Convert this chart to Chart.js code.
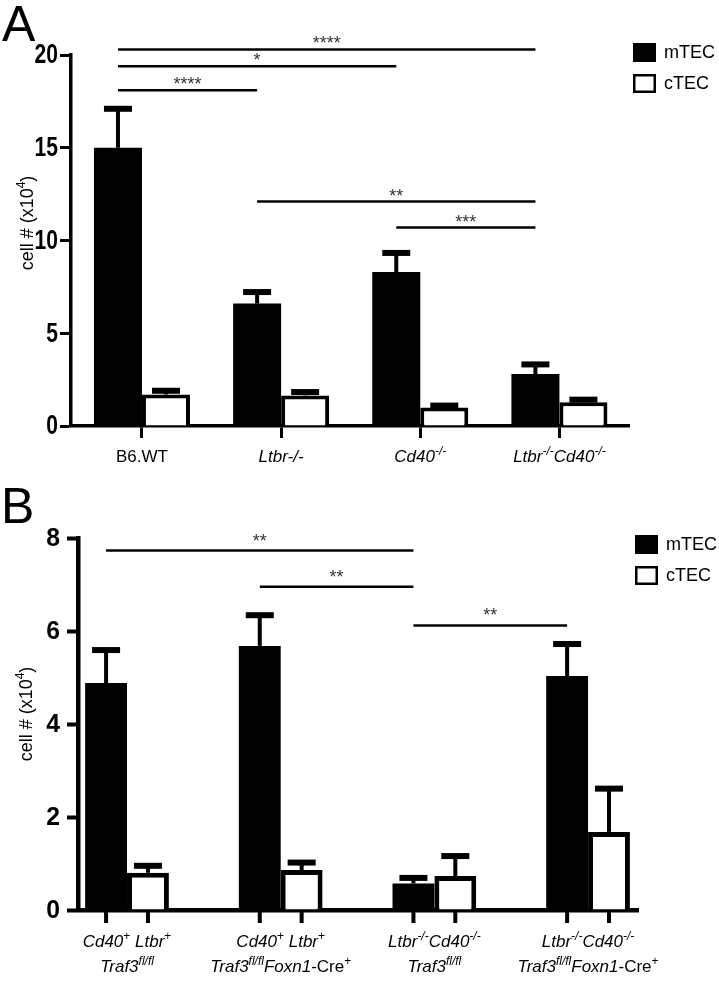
<!DOCTYPE html>
<html>
<head>
<meta charset="utf-8">
<script src="https://cdn.jsdelivr.net/npm/chart.js@4.4.1/dist/chart.umd.min.js"></script>
<style>
  html, body { margin: 0; padding: 0; background: #fff; }
  #wrapA { position: absolute; left: 0; top: 0; width: 719px; height: 470px; }
  #wrapB { position: absolute; left: 0; top: 470px; width: 719px; height: 514px; }
</style>
</head>
<body>
<div id="wrapA"><canvas id="chartA" width="719" height="470"></canvas></div>
<div id="wrapB"><canvas id="chartB" width="719" height="514"></canvas></div>
<script>
// series names (legend)
const seriesNames = ["mTEC", "cTEC"];

// Panel A
const categoriesA = [
  ["B6.WT"],
  ["<i>Ltbr-/-</i>"],
  ["<i>Cd40<sup>-/-</sup></i>"],
  ["<i>Ltbr<sup>-/-</sup>Cd40<sup>-/-</sup></i>"]
];
const mtecA = [15.0, 6.6, 8.3, 2.8];
const mtecErrA = [2.1, 0.62, 1.03, 0.52];
const ctecA = [1.7, 1.65, 1.0, 1.28];
const ctecErrA = [0.2, 0.18, 0.1, 0.14];
const yTicksA = [0, 5, 10, 15, 20];
// [from group, to group, height, stars]
const bracketsA = [
  [0, 3, 20.3, "****"],
  [0, 2, 19.4, "*"],
  [0, 1, 18.1, "****"],
  [1, 3, 12.1, "**"],
  [2, 3, 10.7, "***"]
];

// Panel B
const categoriesB = [
  ["<i>Cd40</i><sup>+</sup> <i>Ltbr</i><sup>+</sup>", "<i>Traf3<sup>fl/fl</sup></i>"],
  ["<i>Cd40</i><sup>+</sup> <i>Ltbr</i><sup>+</sup>", "<i>Traf3<sup>fl/fl</sup>Foxn1</i>-Cre<sup>+</sup>"],
  ["<i>Ltbr<sup>-/-</sup>Cd40<sup>-/-</sup></i>", "<i>Traf3<sup>fl/fl</sup></i>"],
  ["<i>Ltbr<sup>-/-</sup>Cd40<sup>-/-</sup></i>", "<i>Traf3<sup>fl/fl</sup>Foxn1</i>-Cre<sup>+</sup>"]
];
const mtecB = [4.88, 5.68, 0.57, 5.03];
const mtecErrB = [0.71, 0.66, 0.12, 0.69];
const ctecB = [0.8, 0.86, 0.73, 1.68];
const ctecErrB = [0.15, 0.16, 0.43, 0.93];
const yTicksB = [0, 2, 4, 6, 8];
const bracketsB = [
  [0, 2, 7.73, "**"],
  [1, 2, 6.95, "**"],
  [2, 3, 6.12, "**"]
];

const FONT = "'Liberation Sans', Arial, Helvetica, sans-serif";

// simple <i>/<sup> markup -> segments
function parseRich(str){
  const parts = str.split(/(<\/?(?:i|sup)>)/);
  let it = 0, sup = 0;
  const segs = [];
  for (const p of parts) {
    if (!p) continue;
    if (p === "<i>") it++;
    else if (p === "</i>") it--;
    else if (p === "<sup>") sup++;
    else if (p === "</sup>") sup--;
    else segs.push({ text: p, italic: it > 0, sup: sup > 0 });
  }
  return segs;
}

function drawRich(ctx, str, cx, y, size){
  const segs = parseRich(str);
  const fontOf = s => (s.italic ? "italic " : "") + (s.sup ? Math.round(size * 0.7) : size) + "px " + FONT;
  let w = 0;
  segs.forEach(s => { ctx.font = fontOf(s); s.w = ctx.measureText(s.text).width; w += s.w; });
  let x = cx - w / 2;
  ctx.textAlign = "left";
  ctx.textBaseline = "alphabetic";
  segs.forEach(s => {
    ctx.font = fontOf(s);
    ctx.fillText(s.text, x, s.sup ? y - size * 0.42 : y);
    x += s.w;
  });
}

// error bars (upper only) from dataset.errors
const errorBars = {
  id: "errorBars",
  afterDatasetsDraw(chart, args, o){
    const ctx = chart.ctx, ys = chart.scales.y;
    ctx.save();
    ctx.fillStyle = "#000";
    chart.data.datasets.forEach((ds, di) => {
      chart.getDatasetMeta(di).data.forEach((bar, i) => {
        const top = ys.getPixelForValue(ds.data[i].y + ds.errors[i]);
        ctx.fillRect(bar.x - o.stem / 2, top, o.stem, bar.y - top);
        ctx.fillRect(bar.x - o.cap / 2, top - o.capH / 2, o.cap, o.capH);
      });
    });
    ctx.restore();
  }
};

// labels, brackets, legend, title, panel letter
const decor = {
  id: "decor",
  afterDraw(chart, args, o){
    const ctx = chart.ctx, xs = chart.scales.x, ys = chart.scales.y;
    const area = chart.chartArea;
    const m0 = chart.getDatasetMeta(0).data;
    ctx.save();
    ctx.fillStyle = "#000";

    // panel letter
    ctx.font = "50px " + FONT;
    ctx.textAlign = "left";
    ctx.textBaseline = "alphabetic";
    ctx.fillText(o.letter, o.letterX, o.letterY);

    // y tick labels, horizontally condensed
    ctx.font = "bold " + o.tickSize + "px " + FONT;
    ctx.textAlign = "right";
    ctx.textBaseline = "middle";
    ys.ticks.forEach(t => {
      ctx.save();
      ctx.translate(area.left - o.tickGap, ys.getPixelForValue(t.value) + 1);
      ctx.scale(o.tickSquash, 1);
      ctx.fillText(String(t.value), 0, 0);
      ctx.restore();
    });

    // y title, rotated
    ctx.save();
    ctx.translate(o.titleX, o.titleY);
    ctx.rotate(-Math.PI / 2);
    ctx.textAlign = "left";
    ctx.textBaseline = "middle";
    const tParts = [["cell # (x10", 18, 0], ["4", 12, -6], [")", 18, 0]];
    let tw = 0;
    tParts.forEach(p => { ctx.font = p[1] + "px " + FONT; tw += ctx.measureText(p[0]).width; });
    let tx = -tw / 2;
    tParts.forEach(p => {
      ctx.font = p[1] + "px " + FONT;
      ctx.fillText(p[0], tx, p[2]);
      tx += ctx.measureText(p[0]).width;
    });
    ctx.restore();

    // category labels
    o.labels.forEach((lines, i) => {
      const cx = xs.getPixelForValue(i);
      lines.forEach((ln, k) => drawRich(ctx, ln, cx, area.bottom + o.labelY[k], 17));
    });

    // tick marks under each bar (panel B)
    if (o.barTicks) {
      chart.data.datasets.forEach((ds, di) => {
        chart.getDatasetMeta(di).data.forEach(bar => {
          ctx.fillRect(bar.x - 2, area.bottom, 4, o.barTicks);
        });
      });
    }

    // significance brackets between mTEC bars
    ctx.strokeStyle = "#000";
    ctx.lineWidth = 2.5;
    o.brackets.forEach(b => {
      const x1 = m0[b[0]].x, x2 = m0[b[1]].x, y = ys.getPixelForValue(b[2]);
      ctx.beginPath();
      ctx.moveTo(x1, y);
      ctx.lineTo(x2, y);
      ctx.stroke();
      ctx.font = "18px " + FONT;
      ctx.fillStyle = "#333";
      ctx.textAlign = "center";
      ctx.textBaseline = "alphabetic";
      ctx.fillText(b[3], (x1 + x2) / 2, y - o.starOffset);
      ctx.fillStyle = "#000";
    });

    // legend
    chart.data.datasets.forEach((ds, di) => {
      const by = o.legendY + di * o.legendGap;
      if (di === 0) {
        ctx.fillStyle = "#000";
        ctx.fillRect(o.legendX, by, 23, 19);
      } else {
        ctx.lineWidth = 2.5;
        ctx.strokeRect(o.legendX + 1.25, by + 1.25, 20.5, 16.5);
      }
      ctx.fillStyle = "#000";
      ctx.font = "18px " + FONT;
      ctx.textAlign = "left";
      ctx.textBaseline = "middle";
      ctx.fillText(ds.label, o.legendX + 31, by + 10);
    });
    ctx.restore();
  }
};

function makeChart(id, d){
  return new Chart(document.getElementById(id), {
    type: "bar",
    data: {
      datasets: [
        { label: seriesNames[0], data: d.mtec.map((v, i) => ({ x: i, y: v })), errors: d.mtecErr,
          backgroundColor: "#000", borderColor: "#000", borderWidth: 0 },
        { label: seriesNames[1], data: d.ctec.map((v, i) => ({ x: i, y: v })), errors: d.ctecErr,
          backgroundColor: "#fff", borderColor: "#000", borderWidth: d.bw }
      ]
    },
    options: {
      responsive: false,
      animation: false,
      events: [],
      categoryPercentage: d.catPct,
      barPercentage: 1,
      layout: { padding: { left: 0, top: d.top, right: d.right, bottom: 0 } },
      scales: {
        x: {
          type: "linear",
          min: d.xMin,
          max: d.xMax,
          offset: false,
          afterBuildTicks: s => { s.ticks = d.mtec.map((v, i) => ({ value: i })); },
          afterFit: s => { s.height = d.xHeight; },
          ticks: { display: false },
          grid: { offset: false, drawOnChartArea: false, drawTicks: d.groupTicks, tickLength: 12, tickWidth: 3, tickColor: "#000" },
          border: { display: true, color: "#000", width: d.axisW }
        },
        y: {
          min: 0,
          max: d.yTicks[d.yTicks.length - 1],
          afterBuildTicks: s => { s.ticks = d.yTicks.map(v => ({ value: v })); },
          afterFit: s => { s.width = d.yWidth; },
          ticks: { display: false },
          grid: { drawOnChartArea: false, tickLength: 11, tickWidth: d.axisW - 0.5, tickColor: "#000" },
          border: { display: true, color: "#000", width: d.axisW }
        }
      },
      plugins: {
        legend: { display: false },
        tooltip: { enabled: false },
        errorBars: { stem: 4, cap: 28, capH: 6 },
        decor: d.decor
      }
    },
    plugins: [errorBars, decor]
  });
}

makeChart("chartA", {
  mtec: mtecA, mtecErr: mtecErrA, ctec: ctecA, ctecErr: ctecErrA, yTicks: yTicksA,
  bw: 4, catPct: 0.69, top: 55, right: 90, xMin: -0.51, xMax: 3.5, xHeight: 44, yWidth: 71,
  axisW: 3.5, groupTicks: true,
  decor: {
    letter: "A", letterX: 2, letterY: 41, titleX: 28, titleY: 223,
    tickSize: 27, tickSquash: 0.78, tickGap: 13,
    labels: categoriesA, labelY: [36], brackets: bracketsA, starOffset: 0,
    legendX: 633, legendY: 43, legendGap: 31, barTicks: 0
  }
});

makeChart("chartB", {
  mtec: mtecB, mtecErr: mtecErrB, ctec: ctecB, ctecErr: ctecErrB, yTicks: yTicksB,
  bw: 5, catPct: 0.545, top: 68, right: 81, xMin: -0.319, xMax: 3.325, xHeight: 74, yWidth: 78,
  axisW: 4.5, groupTicks: false,
  decor: {
    letter: "B", letterX: 1, letterY: 53, titleX: 27, titleY: 244,
    tickSize: 26, tickSquash: 0.95, tickGap: 18,
    labels: categoriesB, labelY: [37, 62], brackets: bracketsB, starOffset: 4,
    legendX: 635, legendY: 65, legendGap: 31, barTicks: 13
  }
});
</script>
</body>
</html>
